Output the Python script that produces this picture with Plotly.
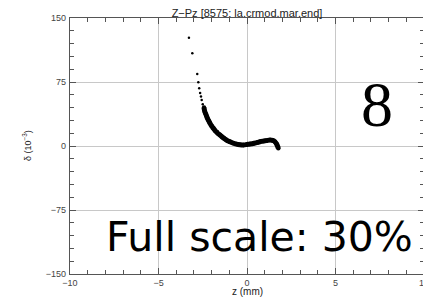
import plotly.graph_objects as go

# sparse leading particles (z in mm, delta in 1e-3)
trail_z = [-3.28, -3.09, -2.81, -2.75, -2.70, -2.65, -2.60, -2.56, -2.50, -2.43]
trail_d = [127.0, 108.6, 84.4, 74.6, 67.6, 62.0, 58.0, 54.0, 49.0, 45.0]

# dense core of the bunch
core_z = [-2.43, -2.38, -2.32, -2.25, -2.19, -2.10, -2.00, -1.90, -1.80, -1.70,
          -1.60, -1.53, -1.40, -1.30, -1.20, -1.10, -0.96, -0.80, -0.60, -0.40,
          -0.20, 0.00, 0.17, 0.40, 0.60, 0.73, 0.90, 1.10, 1.30, 1.45, 1.58,
          1.68, 1.77]
core_d = [45.0, 40.0, 37.0, 33.0, 30.5, 27.0, 23.5, 20.7, 18.0, 16.0,
          14.0, 12.9, 10.5, 9.0, 7.5, 6.2, 5.0, 3.5, 2.2, 1.5,
          1.3, 1.8, 2.3, 3.2, 4.2, 5.0, 5.7, 6.3, 7.0, 6.5, 5.0,
          2.0, -2.7]

x_ticks = [-10, -5, 0, 5, 10]
y_ticks = [-150, -75, 0, 75, 150]

fig = go.Figure()
fig.add_trace(go.Scatter(x=core_z, y=core_d, mode="lines+markers",
                         line=dict(color="black", width=5, shape="spline"),
                         marker=dict(color="black", size=4.5), showlegend=False))
fig.add_trace(go.Scatter(x=trail_z, y=trail_d, mode="markers",
                         marker=dict(color="black", size=2.5), showlegend=False))

axis_common = dict(showline=True, linecolor="#555", linewidth=1.3, mirror="ticks",
                   ticks="inside", ticklen=6, tickcolor="#555", tickwidth=1,
                   showgrid=True, gridcolor="#c8c8c8", gridwidth=1, zeroline=False,
                   automargin=False, ticklabeloverflow="allow",
                   tickfont=dict(family="Liberation Sans", size=9, color="#444"))

fig.update_xaxes(range=[-10, 10], tickvals=x_ticks,
                 ticktext=[str(v).replace("-", "\u2212") for v in x_ticks],
                 minor=dict(dtick=1, ticks="inside", ticklen=4, tickcolor="#555", showgrid=False),
                 ticklabelstandoff=0, **axis_common)
fig.update_yaxes(range=[-150, 150], tickvals=y_ticks,
                 ticktext=[str(v).replace("-", "\u2212") for v in y_ticks],
                 minor=dict(dtick=15, ticks="inside", ticklen=4, tickcolor="#555", showgrid=False),
                 ticklabelstandoff=1, **axis_common)

fig.update_layout(
    width=423, height=293,
    margin=dict(l=62, r=7, t=10, b=27, autoexpand=False),
    paper_bgcolor="white", plot_bgcolor="white",
    title=dict(text="Z\u2212Pz [8575: la.crmod.mar.end]", x=0.5, xref="paper",
               y=1 - 1 / 293, yanchor="top", pad=dict(t=0, b=0),
               font=dict(family="Liberation Sans", size=11, color="#222")),
    annotations=[
        dict(text="8", x=0.867, y=0.664, xref="paper", yref="paper",
             showarrow=False, xanchor="center", yanchor="middle",
             font=dict(family="Liberation Serif", size=64, color="black")),
        dict(text="Full scale: 30%", x=0.975, y=0.145, xref="paper", yref="paper",
             showarrow=False, xanchor="right", yanchor="middle",
             font=dict(family="DejaVu Sans ExtraLight, DejaVu Sans", size=41, color="black")),
        dict(text="z (mm)", x=0.5, y=-17 / 256, xref="paper", yref="paper",
             showarrow=False, xanchor="center", yanchor="middle",
             font=dict(family="Liberation Sans", size=10, color="#222")),
        dict(text="\u03b4 (10<sup>\u22123</sup>)", x=-43 / 354, y=0.5, xref="paper", yref="paper",
             showarrow=False, xanchor="center", yanchor="middle", textangle=-90,
             font=dict(family="Liberation Sans", size=9, color="#222")),
    ],
)

fig.write_html("out.html")
